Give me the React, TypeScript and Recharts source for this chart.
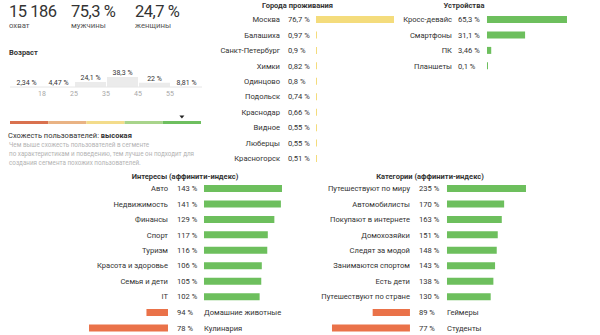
import React from "react";
import { BarChart, Bar, XAxis, YAxis, LabelList, ReferenceDot } from "recharts";

// ---------- data ----------
const statValues = ["15 186", "75,3 %", "24,7 %"];
const statLabels = ["охват", "мужчины", "женщины"];

const ageGroups = ["<18", "18–24", "25–34", "35–44", "45–54", "55+"];
const ageValues = [2.34, 4.47, 24.1, 38.3, 22, 8.81];
const ageTickLabels = ["18", "25", "35", "45", "55", ""];
const ageAxisFloor = 10;

const similaritySegments = ["s1", "s2", "s3", "s4", "s5"];
const similarityColors = ["#d9714f", "#e9b384", "#f3dc8b", "#a8d48b", "#6ebf5f"];
const similarityMarker = 4.5;

const cityNames = ["Москва", "Балашиха", "Санкт-Петербург", "Химки", "Одинцово", "Подольск", "Краснодар", "Видное", "Люберцы", "Красногорск"];
const cityValues = [76.7, 0.97, 0.9, 0.82, 0.8, 0.74, 0.66, 0.55, 0.55, 0.51];

const deviceNames = ["Кросс-девайс", "Смартфоны", "ПК", "Планшеты"];
const deviceValues = [65.3, 31.1, 3.46, 0.1];

const interestNames = ["Авто", "Недвижимость", "Финансы", "Спорт", "Туризм", "Красота и здоровье", "Семья и дети", "IT", "Домашние животные", "Кулинария"];
const interestValues = [143, 141, 129, 117, 116, 106, 105, 102, 94, 78];

const categoryNames = ["Путешествуют по миру", "Автомобилисты", "Покупают в интернете", "Домохозяйки", "Следят за модой", "Занимаются спортом", "Есть дети", "Путешествуют по стране", "Геймеры", "Студенты"];
const categoryValues = [235, 170, 163, 151, 148, 143, 138, 130, 89, 77];

// ---------- styles ----------
const FONT = "Roboto, 'Noto Sans', sans-serif";
const TXT = "#333";
const GREEN = "#6dbf5d";
const ORANGE = "#ea7249";
const YELLOW = "#f4dc7c";
const ROW = 15.45;
const LBL = 7.6;

const fmt = (v: number) => String(v).replace(".", ",") + " %";

function Txt(props: { x: number; y: number; size: number; weight?: number; color?: string; anchor?: "start" | "middle"; children: React.ReactNode; spacing?: number }) {
  const { x, y, size, weight = 400, color = TXT, anchor = "start", children, spacing = 0 } = props;
  return (
    <div
      style={{
        position: "absolute",
        left: x,
        top: y - size / 2,
        fontSize: size,
        lineHeight: `${size}px`,
        fontWeight: weight,
        color,
        whiteSpace: "nowrap",
        fontFamily: FONT,
        letterSpacing: spacing,
        transform: anchor === "middle" ? "translateX(-50%)" : undefined,
      }}
    >
      {children}
    </div>
  );
}

type ListProps = {
  names: string[];
  values: number[];
  top: number;
  labelEnd: number;
  valueX: number;
  barStart: number;
  barLen: number;
  color: string;
};

function BarList({ names, values, top, labelEnd, valueX, barStart, barLen, color }: ListProps) {
  const data = names.map((n, i) => ({ name: n, value: values[i] }));
  const max = Math.max(...values);
  return (
    <div style={{ position: "absolute", left: 0, top }}>
      <BarChart width={barStart + barLen + 2} height={names.length * ROW} data={data} layout="vertical" margin={{ top: 0, right: 2, bottom: 0, left: 0 }}>
        <XAxis type="number" hide domain={[0, max]} />
        <YAxis
          type="category"
          dataKey="name"
          width={barStart}
          axisLine={false}
          tickLine={false}
          interval={0}
          tick={(p: any) => (
            <g>
              <text x={labelEnd} y={p.y} textAnchor="end" dominantBaseline="central" fontSize={LBL} fill={TXT} fontFamily={FONT}>
                {p.payload.value}
              </text>
              <text x={valueX} y={p.y} textAnchor="start" dominantBaseline="central" fontSize={LBL} fill={TXT} fontFamily={FONT}>
                {fmt(data[p.payload.index].value)}
              </text>
            </g>
          )}
        />
        <Bar dataKey="value" fill={color} barSize={7} minPointSize={1} isAnimationActive={false} />
      </BarChart>
    </div>
  );
}

type DefProps = {
  names: string[];
  values: number[];
  top: number;
  labelEnd: number;
  valueX: number;
  nameX: number;
  barLen: number;
};

function DeficitList({ names, values, top, labelEnd, valueX, nameX, barLen }: DefProps) {
  const data = names.map((n, i) => ({ name: n, value: values[i], deficit: 100 - values[i] }));
  const max = Math.max(...data.map((d) => d.deficit));
  const width = labelEnd + 140;
  return (
    <div style={{ position: "absolute", left: 0, top }}>
      <BarChart width={width} height={names.length * ROW} data={data} layout="vertical" margin={{ top: 0, right: 0, bottom: 0, left: labelEnd - barLen }}>
        <XAxis type="number" hide reversed domain={[0, max]} />
        <YAxis
          type="category"
          dataKey="name"
          orientation="right"
          width={140}
          axisLine={false}
          tickLine={false}
          interval={0}
          tick={(p: any) => (
            <g>
              <text x={valueX} y={p.y} textAnchor="start" dominantBaseline="central" fontSize={LBL} fill={TXT} fontFamily={FONT}>
                {fmt(data[p.payload.index].value)}
              </text>
              <text x={nameX} y={p.y} textAnchor="start" dominantBaseline="central" fontSize={LBL} fill={TXT} fontFamily={FONT}>
                {p.payload.value}
              </text>
            </g>
          )}
        />
        <Bar dataKey="deficit" fill={ORANGE} barSize={7} isAnimationActive={false} />
      </BarChart>
    </div>
  );
}

const BASE_Y = 87;

function AgeChart() {
  const data = ageGroups.map((g, i) => ({ name: g, value: ageValues[i], label: fmt(ageValues[i]), tick: ageTickLabels[i] }));
  return (
    <div style={{ position: "absolute", left: 0, top: 0 }}>
      <BarChart width={210} height={100} data={data} margin={{ top: 77, right: 8, bottom: 0, left: 10 }} barCategoryGap={0}>
        <YAxis hide domain={[ageAxisFloor, Math.max(...ageValues)]} allowDataOverflow />
        <XAxis
          dataKey="name"
          height={13}
          axisLine={{ stroke: "#e6e6e6" }}
          tickLine={false}
          interval={0}
          tick={(p: any) => (
            <text x={p.x + 16} y={94} textAnchor="middle" dominantBaseline="central" fontSize={7} fill="#a8a8a8" fontFamily={FONT}>
              {data[p.payload.index].tick}
            </text>
          )}
        />
        <Bar dataKey="value" fill="#ebebeb" barSize={31} isAnimationActive={false}>
          <LabelList
            dataKey="label"
            content={(p: any) => {
              const top = Math.min(Math.min(p.y, p.y + p.height), BASE_Y);
              return (
                <text x={p.x + p.width / 2} y={top - 3.8} textAnchor="middle" dominantBaseline="central" fontSize={7} fill={TXT} fontFamily={FONT}>
                  {p.value}
                </text>
              );
            }}
          />
        </Bar>
      </BarChart>
    </div>
  );
}

function SimilarityScale() {
  const row: Record<string, any> = { name: "s" };
  similaritySegments.forEach((k) => (row[k] = 1));
  return (
    <div style={{ position: "absolute", left: 0, top: 0 }}>
      <BarChart width={210} height={127} data={[row]} layout="vertical" margin={{ top: 117, right: 9, bottom: 0, left: 10 }}>
        <XAxis type="number" hide domain={[0, similaritySegments.length]} />
        <YAxis type="category" dataKey="name" hide />
        {similaritySegments.map((k, i) => (
          <Bar key={k} dataKey={k} stackId="a" fill={similarityColors[i]} barSize={3} isAnimationActive={false} />
        ))}
        <ReferenceDot
          x={similarityMarker}
          y="s"
          ifOverflow="visible"
          shape={(p: any) => <path d={`M${p.cx - 2.5},${p.cy - 6.5} L${p.cx + 2.5},${p.cy - 6.5} L${p.cx},${p.cy - 3.5} Z`} fill="#222" />}
        />
      </BarChart>
    </div>
  );
}

export default function App() {
  const statX = [9, 71, 135];
  return (
    <div style={{ position: "absolute", left: 0, top: 0, width: 600, height: 335, background: "#fff", overflow: "hidden", fontFamily: FONT }}>
      {statValues.map((v, i) => (
        <Txt key={v} x={statX[i]} y={12} size={16.5} spacing={-0.5}>
          {v}
        </Txt>
      ))}
      {statLabels.map((v, i) => (
        <Txt key={v} x={statX[i]} y={26} size={7.8} color="#555">
          {v}
        </Txt>
      ))}
      <Txt x={9} y={53} size={7.5} weight={700}>Возраст</Txt>
      <AgeChart />
      <SimilarityScale />
      <Txt x={8} y={136} size={7.5}>
        Схожесть пользователей: <b>высокая</b>
      </Txt>
      <Txt x={9} y={145} size={6.3} color="#b3b3b3">Чем выше схожесть пользователей в сегменте</Txt>
      <Txt x={9} y={154} size={6.3} color="#b3b3b3">по характеристикам и поведению, тем лучше он подходит для</Txt>
      <Txt x={9} y={163} size={6.3} color="#b3b3b3">создания сегмента похожих пользователей.</Txt>

      <Txt x={297.5} y={6} size={7.5} weight={700} anchor="middle">Города проживания</Txt>
      <BarList names={cityNames} values={cityValues} top={19.5 - ROW / 2} labelEnd={280} valueX={288} barStart={316} barLen={78} color={YELLOW} />

      <Txt x={464} y={6} size={7.5} weight={700} anchor="middle">Устройства</Txt>
      <BarList names={deviceNames} values={deviceValues} top={19.5 - ROW / 2} labelEnd={452} valueX={458} barStart={487} barLen={80} color={GREEN} />

      <Txt x={185} y={177} size={7.5} weight={700} anchor="middle">Интересы (аффинити-индекс)</Txt>
      <BarList names={interestNames.slice(0, 8)} values={interestValues.slice(0, 8)} top={189 - ROW / 2} labelEnd={168} valueX={177} barStart={204} barLen={78} color={GREEN} />
      <DeficitList names={interestNames.slice(8)} values={interestValues.slice(8)} top={189 - ROW / 2 + 8 * ROW} labelEnd={168} valueX={177} nameX={204} barLen={79} />

      <Txt x={430} y={177} size={7.5} weight={700} anchor="middle">Категории (аффинити-индекс)</Txt>
      <BarList names={categoryNames.slice(0, 8)} values={categoryValues.slice(0, 8)} top={189 - ROW / 2} labelEnd={410} valueX={419} barStart={447} barLen={79} color={GREEN} />
      <DeficitList names={categoryNames.slice(8)} values={categoryValues.slice(8)} top={189 - ROW / 2 + 8 * ROW} labelEnd={410} valueX={419} nameX={447} barLen={78} />
    </div>
  );
}
